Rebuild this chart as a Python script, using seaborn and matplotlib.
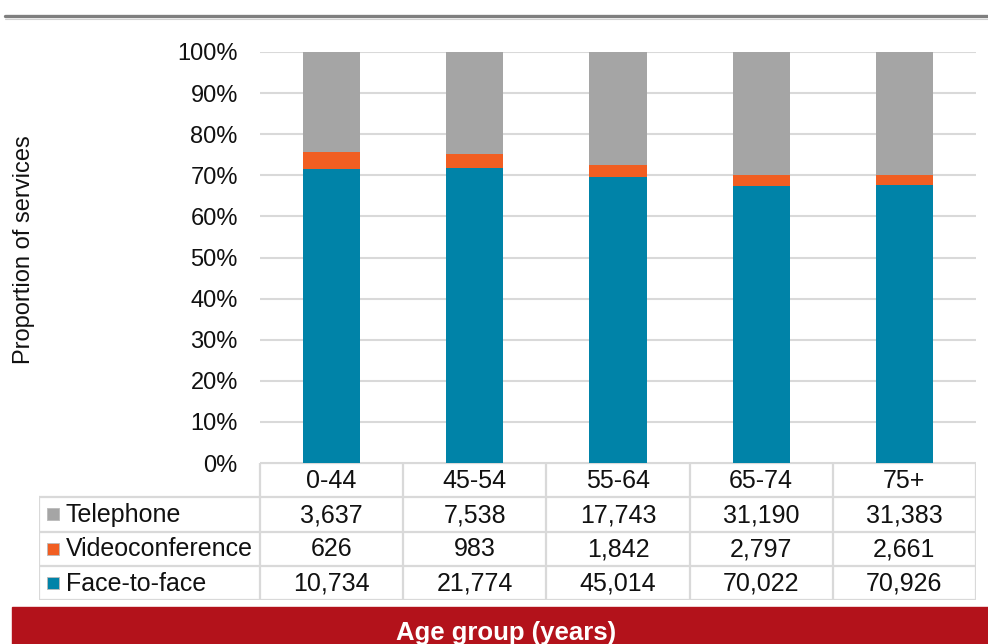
import matplotlib
matplotlib.use("Agg")
import matplotlib.pyplot as plt
from matplotlib.lines import Line2D
from matplotlib.patches import Rectangle
from matplotlib.ticker import PercentFormatter
import numpy as np
import pandas as pd
import seaborn as sns

# Services by age group and mode of delivery
age_groups = ["0-44", "45-54", "55-64", "65-74", "75+"]
modes = ["Telephone", "Videoconference", "Face-to-face"]
telephone = [3637, 7538, 17743, 31190, 31383]
videoconference = [626, 983, 1842, 2797, 2661]
face_to_face = [10734, 21774, 45014, 70022, 70926]

colors = {"Telephone": "#A5A5A5", "Videoconference": "#F15E22", "Face-to-face": "#0083A8"}

sns.set_theme(style="white")
plt.rcParams["font.family"] = ["Liberation Sans", "DejaVu Sans"]
FS = 17
FS_TAB = 18

counts = {"Telephone": np.array(telephone, float),
          "Videoconference": np.array(videoconference, float),
          "Face-to-face": np.array(face_to_face, float)}
total = sum(counts.values())
share_face = counts["Face-to-face"] / total
share_video = counts["Videoconference"] / total
share_phone = counts["Telephone"] / total

# cumulative tops of each stacked segment
rows = []
for i, g in enumerate(age_groups):
    rows.append({"age": g, "mode": "Telephone", "top": share_face[i] + share_video[i] + share_phone[i]})
    rows.append({"age": g, "mode": "Videoconference", "top": share_face[i] + share_video[i]})
    rows.append({"age": g, "mode": "Face-to-face", "top": share_face[i]})
df = pd.DataFrame(rows)

W, H = 988, 644
fig = plt.figure(figsize=(W / 100, H / 100), dpi=100)

# plot area in pixels
left, right, top, bottom = 260, 976, 52, 463
ax = fig.add_axes([left / W, 1 - bottom / H, (right - left) / W, (bottom - top) / H])
sns.barplot(data=df, x="age", y="top", hue="mode", hue_order=modes, order=age_groups,
            palette=colors, dodge=False, width=0.4, saturation=1, legend=False,
            linewidth=0, ax=ax)
for p in ax.patches:
    p.set_edgecolor("none")
    p.set_linewidth(0)
ax.set_xlim(-0.5, len(age_groups) - 0.5)
ax.set_ylim(0, 1)
ax.set_yticks(np.arange(0, 1.01, 0.1))
ax.yaxis.set_major_formatter(PercentFormatter(1.0, decimals=0))
ax.yaxis.grid(True, color="#D9D9D9", lw=1.5)
ax.set_axisbelow(True)
ax.tick_params(axis="y", length=0, pad=16, labelsize=FS, labelcolor="#111111")
ax.tick_params(axis="x", length=0, labelbottom=False)
ax.set_xlabel("")
ax.set_ylabel("")
for s in ax.spines.values():
    s.set_visible(False)

fig.text(24 / W, 1 - 250 / H, "Proportion of services", rotation=90,
         ha="center", va="center", fontsize=FS, color="#111111")

# data table beneath the bars
t_left, t_top, t_bottom = 39, 463, 600
unit = (right - left) / len(age_groups)
lab_w = (left - t_left) / unit
tax = fig.add_axes([t_left / W, 1 - t_bottom / H, (right - t_left) / W, (t_bottom - t_top) / H])
x0 = -0.5 - lab_w
tax.set_xlim(x0, len(age_groups) - 0.5)
tax.set_ylim(4, 0)
tax.axis("off")
gc = "#D9D9D9"
glw = 1.6
n = len(age_groups)
tax.plot([-0.5, n - 0.5], [0, 0], color=gc, lw=glw)
for r in range(1, 5):
    tax.plot([x0, n - 0.5], [r, r], color=gc, lw=glw)
tax.plot([x0, x0], [1, 4], color=gc, lw=glw)
for k in range(n + 1):
    tax.plot([k - 0.5, k - 0.5], [0, 4], color=gc, lw=glw)
for i, g in enumerate(age_groups):
    tax.text(i, 0.52, g, ha="center", va="center", fontsize=FS_TAB, color="#111111")
for r, m in enumerate(modes, start=1):
    tax.scatter([x0 + 14 / unit], [r + 0.5], marker="s", s=80, color=colors[m],
                edgecolor="#BBBBBB", linewidth=0.6, zorder=3)
    tax.text(x0 + 27 / unit, r + 0.52, m, ha="left", va="center", fontsize=FS_TAB, color="#111111")
    for i, v in enumerate(counts[m]):
        tax.text(i, r + 0.52, f"{int(v):,}", ha="center", va="center", fontsize=FS_TAB, color="#111111")

# header rule and footer banner
fig.add_artist(Line2D([5 / W, 1], [1 - 16 / H] * 2, color="#7F7F7F", lw=2.4))
fig.add_artist(Line2D([5 / W, 1], [1 - 18.5 / H] * 2, color="#D0D0D0", lw=0.8))
fig.add_artist(Rectangle((12 / W, 0), (W - 12) / W, 37 / H, color="#B3121B",
                         transform=fig.transFigure))
fig.text(506 / W, 11 / H, "Age group (years)", ha="center", va="center",
         fontsize=18.5, fontweight="bold", color="white")

fig.savefig("out.png", dpi=100)
